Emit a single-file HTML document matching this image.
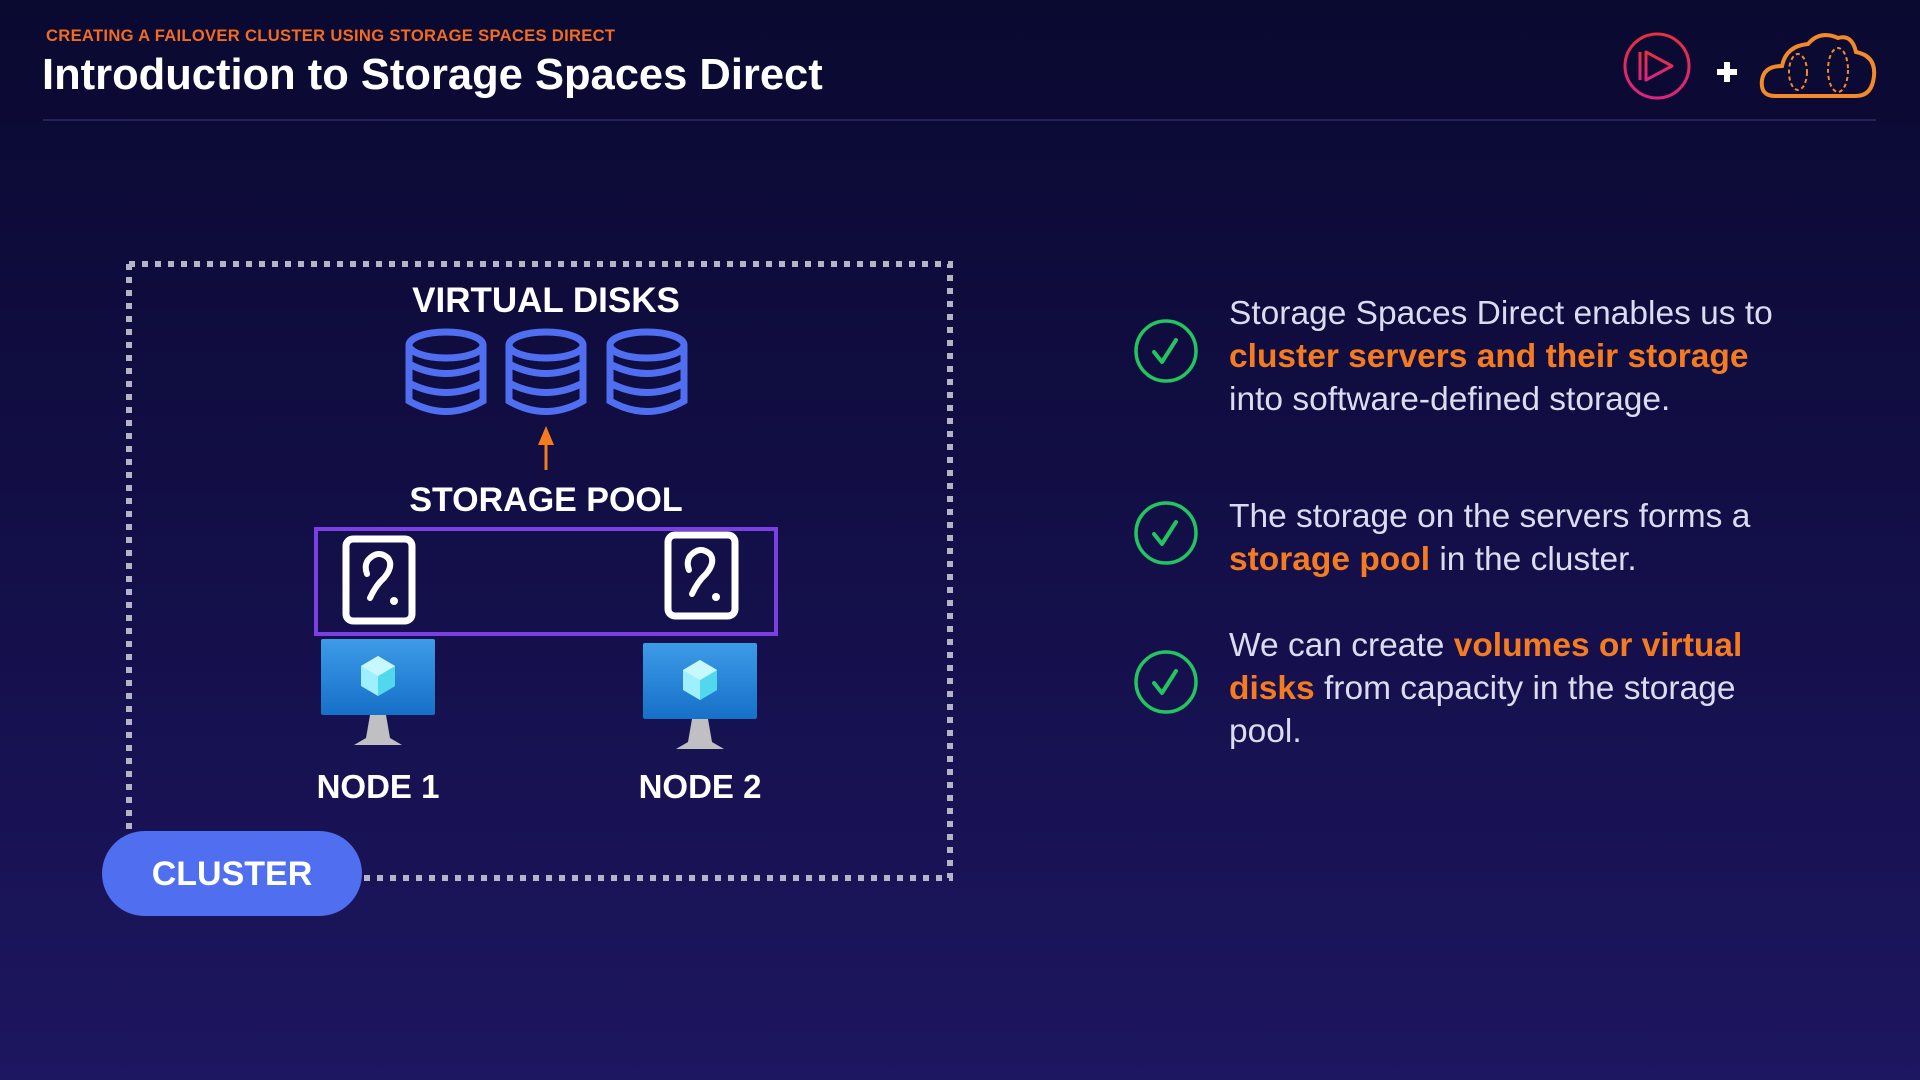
<!DOCTYPE html>
<html><head><meta charset="utf-8"><style>
html,body{margin:0;padding:0;}
body{width:1920px;height:1080px;overflow:hidden;position:relative;background:linear-gradient(180deg,#0a0930 0%,#120e45 45%,#1d1660 100%);font-family:"Liberation Sans",sans-serif;color:#fff;}
.a{position:absolute;}
.sub{left:46px;top:26px;font-size:16.6px;font-weight:bold;color:#f26b21;letter-spacing:0.3px;}
.title{left:42px;top:51px;font-size:43.5px;font-weight:bold;}
.hl{left:43px;top:119px;width:1833px;height:2px;background:#252258;}
.lbl{font-weight:bold;font-size:33px;text-align:center;width:400px;}
.p{left:1229px;font-size:33.5px;line-height:43px;color:#dcdcf0;width:680px;}
.o{color:#f47b20;font-weight:bold;}
.pill{left:102px;top:831px;width:260px;height:85px;border-radius:43px;background:#4f6ef0;font-size:34px;font-weight:bold;text-align:center;line-height:87px;}
</style></head><body>
<div class="a sub">CREATING A FAILOVER CLUSTER USING STORAGE SPACES DIRECT</div>
<div class="a title">Introduction to Storage Spaces Direct</div>
<div class="a hl"></div>

<svg class="a" style="left:0;top:0" width="1920" height="1080">
<defs>
<linearGradient id="pg" x1="0" y1="0" x2="0" y2="1"><stop offset="0" stop-color="#e8303f"/><stop offset="1" stop-color="#e0237e"/></linearGradient>
<linearGradient id="mg" x1="0" y1="0" x2="0" y2="1"><stop offset="0" stop-color="#3d9be8"/><stop offset="1" stop-color="#1670c8"/></linearGradient>
</defs>
<circle cx="1657" cy="66" r="32" fill="none" stroke="url(#pg)" stroke-width="3"/>
<path d="M1646 52 L1672 66 L1646 80 Z M1640 52 L1640 80" fill="none" stroke="url(#pg)" stroke-width="3" stroke-linejoin="round"/>
<path d="M1727 62v20M1717 72h20" stroke="#fff" stroke-width="6"/>
<path d="M1775 96 Q1760 96 1762 80 Q1764 66 1782 66 Q1786 46 1808 44 Q1820 30 1838 38 Q1852 34 1856 52 Q1876 56 1874 76 Q1872 96 1856 96 Z" fill="none" stroke="#f28a2a" stroke-width="4"/>
<ellipse cx="1798" cy="72" rx="9" ry="18" fill="none" stroke="#f28a2a" stroke-width="2" stroke-dasharray="4 3"/>
<ellipse cx="1838" cy="70" rx="10" ry="22" fill="none" stroke="#f28a2a" stroke-width="2" stroke-dasharray="4 3"/>
<path d="M129 264 H950 V878 H362 M129 264 V830" fill="none" stroke="#b4b4c6" stroke-width="6" stroke-dasharray="6 7"/>
<g fill="none" stroke="#4f6ef0" stroke-width="7">
<g id="db"><ellipse cx="446" cy="345" rx="37" ry="13"/><path d="M409 345 V401 Q446 422 483 401 V345 M409 364 Q446 383 483 364 M409 383 Q446 402 483 383"/></g>
<use href="#db" x="100"/><use href="#db" x="201"/>
</g>
<path d="M546 470 V440" stroke="#f47b20" stroke-width="3"/>
<path d="M538 445 L546 426 L554 445 Z" fill="#f47b20"/>
<rect x="316" y="529" width="460" height="105" fill="none" stroke="#7b3fe4" stroke-width="4"/>
<g fill="none" stroke="#fff" stroke-width="7">
<rect x="346" y="539" width="66" height="82" rx="7"/>
<rect x="668" y="535" width="67" height="81" rx="7"/>
</g>
<g fill="none" stroke="#fff" stroke-width="6" stroke-linecap="round">
<path d="M370 598 Q376 585 384 578 Q394 566 388 558 Q378 549 368 560 Q364 566 367 574"/>
<path d="M692 594 Q698 581 706 574 Q716 562 710 554 Q700 545 690 556 Q686 562 689 570"/>
</g>
<circle cx="394" cy="601" r="4" fill="#fff"/><circle cx="716" cy="597" r="4" fill="#fff"/>
<g id="mon">
<rect x="321" y="639" width="114" height="76" rx="2" fill="url(#mg)"/>
<path d="M370 715 H386 L390 738 L402 745 H354 L366 738 Z" fill="#bfbfc4"/>
<path d="M378 656 L395 666 V686 L378 696 L361 686 V666 Z" fill="#9ff0ff"/>
<path d="M378 676 L395 666 V686 L378 696 Z" fill="#52d8ee"/>
<path d="M378 676 L361 666 L378 656 L395 666 Z" fill="#c8f8ff"/>
</g>
<use href="#mon" x="322" y="4"/>
<g fill="none" stroke="#22c55e" stroke-width="3.5">
<circle cx="1166" cy="351" r="30"/><circle cx="1166" cy="533" r="30"/><circle cx="1166" cy="682" r="30"/>
<path d="M1154 352 l8 10 l14 -22 M1154 534 l8 10 l14 -22 M1154 683 l8 10 l14 -22" stroke-width="4" stroke-linecap="round" stroke-linejoin="round"/>
</g>
</svg>

<div class="a lbl" style="left:346px;top:281px;font-size:35px">VIRTUAL DISKS</div>
<div class="a lbl" style="left:346px;top:481px;font-size:34px">STORAGE POOL</div>
<div class="a lbl" style="left:178px;top:768px">NODE 1</div>
<div class="a lbl" style="left:500px;top:768px">NODE 2</div>
<div class="a pill">CLUSTER</div>

<div class="a p" style="top:292px">Storage Spaces Direct enables us to<br><span class="o">cluster servers and their storage</span><br>into software-defined storage.</div>
<div class="a p" style="top:495px">The storage on the servers forms a<br><span class="o">storage pool</span> in the cluster.</div>
<div class="a p" style="top:624px">We can create <span class="o">volumes or virtual<br>disks</span> from capacity in the storage<br>pool.</div>
</body></html>
